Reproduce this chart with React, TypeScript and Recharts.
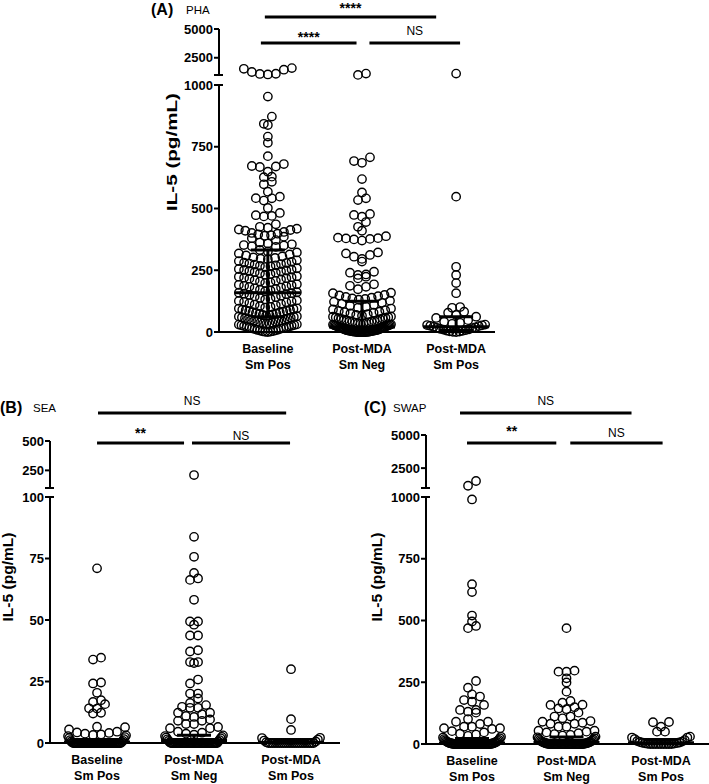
import { ScatterChart, Scatter, XAxis, YAxis, ReferenceLine } from "recharts";

// IL-5 responses (pg/mL) by group.
const FONT = "'Liberation Sans', Arial, Helvetica, sans-serif";

const categories = [["Baseline", "Sm Pos"], ["Post-MDA", "Sm Neg"], ["Post-MDA", "Sm Pos"]];

const phaBaseline = [
  1600, 1540, 1460, 1260, 1110, 1090, 1050,
  953, 872, 843, 838, 791, 766, 712, 680, 672, 670, 668, 649, 629, 627, 608, 598,
  568, 548, 542, 541, 532, 502, 482, 473, 470, 468, 436, 426, 422,
  418, 415, 413, 410, 405, 401, 398, 395, 392, 390,
  386, 380, 372, 362, 358, 355, 352, 350, 347, 345,
  332, 326, 322, 318, 314, 310, 306, 302, 300, 297, 295,
  290, 287, 284, 281, 279, 277, 275, 273, 270, 268, 266, 263,
  258, 255, 253, 251, 249, 247, 245, 243, 240, 238, 235, 232,
  226, 224, 222, 220, 218, 216, 213, 210, 207, 204, 201, 198,
  193, 191, 189, 187, 185, 183, 180, 177, 174, 171, 168, 165,
  161, 159, 157, 155, 153, 150, 147, 144, 141, 138, 135, 132,
  128, 126, 124, 122, 120, 117, 114, 111, 108, 105, 102, 99,
  96, 95, 93, 90, 89, 88, 86, 84, 82, 80, 79, 77, 74, 73, 71, 69, 68, 66,
  64, 63, 61, 59, 58, 56, 54, 52, 50, 49, 47, 46, 44, 43, 41, 38, 37, 35, 34, 33,
  31, 30, 28, 27, 25, 24, 22, 21, 20, 18, 16, 15, 14, 12, 10, 9, 7, 6, 4, 3, 2, 1, 0,
];
const phaNeg = [
  1120, 1010,
  707, 692, 685, 619, 565, 541, 534, 478, 474, 467, 445, 426, 410,
  388, 382, 380, 379, 377, 375, 370, 322, 318, 312, 305, 296, 285,
  244, 240, 233, 231, 224, 217, 193, 187, 183, 173, 159, 157,
  150, 148, 145, 142, 139, 136, 134, 131,
  127, 122, 118, 114, 110, 106, 102, 98,
  95, 91, 88, 85, 82, 80, 78, 75, 72, 69, 66,
  63, 62, 60, 59, 58, 56, 55, 53, 52, 50, 48, 47, 45, 44, 42, 41, 39, 38, 36, 35, 34, 33,
  31, 30, 29, 28, 27, 26, 25, 24, 23, 22, 21, 20, 19, 18, 17, 16, 15, 14, 13, 12, 11, 10, 9,
  8, 8, 7, 7, 6, 6, 5, 5, 4, 4, 3, 3, 2, 2, 2, 1, 1, 1, 0, 0, 0, 0, 0, 0, 0, 0,
];
const phaPos = [
  1120, 548, 264, 231, 198, 157, 101, 98, 82, 78, 69, 62, 57, 48, 42, 37, 33,
  30, 28, 27, 25, 24, 21, 19, 17, 16, 13, 11, 10, 8, 6, 5, 3, 2, 1, 0,
];

const seaBaseline = [
  71, 34.7, 33.9, 24.6, 24.2, 20.4, 17.4, 16.7, 15.8, 14.1, 14, 12.3, 12, 6.6, 6.4, 5.5,
  4.6, 4.3, 4.1, 3.8, 3.5, 3.3, 3.1, 2.8, 2.4, 2, 1.6, 1.2, 0.9, 0.6, 0.4, 0.2,
  0, 0, 0, 0, 0, 0, 0, 0, 0, 0, 0, 0, 0, 0, 0, 0, 0, 0, 0, 0,
  0, 0, 0, 0, 0, 0, 0, 0, 0, 0, 0, 0, 0, 0, 0, 0, 0, 0, 0, 0,
  0, 0, 0, 0, 0,
];
const seaNeg = [
  210, 83.8, 75.7, 69.1, 66.9, 66.3, 58.2, 49.4, 49.4, 48.1, 43.7, 43.7, 37.7, 37.2,
  32.9, 32.9, 32.5, 25.8, 24.2, 20.1, 20.1, 18.1, 16.3, 15.4, 14.7, 14.3, 14.3, 12.3, 12.3,
  11.7, 11, 10.6, 9.6, 9, 9, 7.7, 7.7, 6.5, 6, 6,
  4.6, 4.2, 3.8, 3.4, 3.1, 2.8, 2.5, 2.2, 1.9, 1.5, 1.2, 0.9, 0.6, 0.3,
  0, 0, 0, 0, 0, 0, 0, 0, 0, 0, 0, 0, 0, 0, 0, 0, 0, 0, 0, 0,
  0, 0, 0, 0, 0, 0, 0, 0, 0, 0, 0, 0, 0, 0, 0, 0, 0, 0, 0, 0,
];
const seaPos = [
  30, 9.7, 5.3, 2.1, 2, 1.4, 1, 0.6, 0.3,
  0, 0, 0, 0, 0, 0, 0, 0, 0, 0, 0, 0, 0, 0, 0, 0, 0, 0, 0, 0, 0, 0,
];

const swapBaseline = [
  1530, 1170, 990, 647, 615, 520, 496, 478, 469, 255, 228, 201, 192, 178, 171, 158,
  138, 138, 131, 127, 101, 90, 90, 81, 70, 70, 64, 64, 61, 52, 47, 42, 38, 33, 29, 26,
  23, 20, 17, 15, 13, 11, 9, 8, 7, 6, 5, 4, 3, 3, 2, 2, 1, 1,
  0, 0, 0, 0, 0, 0, 0, 0, 0, 0, 0, 0, 0, 0, 0, 0, 0, 0, 0, 0,
  0, 0, 0, 0, 0, 0, 0, 0, 0, 0, 0, 0, 0, 0, 0,
];
const swapNeg = [
  469, 297, 293, 293, 266, 249, 212, 174, 167, 159, 158, 149, 144, 141, 127, 111, 111,
  104, 93, 90, 86, 82, 82, 70, 70, 54, 54, 50, 47, 44, 40, 37, 34, 30, 27, 24, 21, 18,
  16, 14, 12, 10, 9, 8, 7, 6, 5, 4, 3, 3, 2, 2, 1, 1,
  0, 0, 0, 0, 0, 0, 0, 0, 0, 0, 0, 0, 0, 0, 0, 0, 0, 0, 0, 0,
  0, 0, 0, 0, 0, 0, 0, 0, 0, 0,
];
const swapPos = [89, 88, 70, 50, 50, 30, 26, 26, 20, 16, 12, 10, 8, 6, 5, 4, 3, 2, 1, 0, 0, 0, 0, 0, 0, 0, 0, 0];

// median with interquartile range per group
const phaStats = [{ median: 159, q1: 62, q3: 332 }, { median: 20, q1: 5, q3: 125 }, { median: 21, q1: 6, q3: 62 }];
const seaStats = [{ median: 0.4, q1: 0, q3: 1.2 }, { median: 1, q1: 0, q3: 3.2 }, { median: 0.2, q1: 0, q3: 0.6 }];
const swapStats = [{ median: 4, q1: 0, q3: 22 }, { median: 6, q1: 0, q3: 28 }, { median: 5, q1: 0, q3: 18 }];

const phaLowTicks = [0, 250, 500, 750, 1000];
const phaUpTicks = [1000, 2500, 5000];
const seaLowTicks = [0, 25, 50, 75, 100];
const seaUpTicks = [100, 250, 500];
const swapLowTicks = [0, 250, 500, 750, 1000];
const swapUpTicks = [1000, 2500, 5000];

const Y_W = 60;
const X_H = 45;
const BIN_PX = 8;
const DOT_GAP = 8;
const MED_HALF = 33;
const CAP_HALF = 17;

// GraphPad-like column scatter: bin by pixel row, spread each row around the category
function swarm(values: number[], cat: number, base: number, pxY: number, pxX: number, maxOff: number) {
  const bins = new Map<number, number[]>();
  values.forEach((v) => {
    const b = Math.floor(((v - base) * pxY) / BIN_PX);
    if (!bins.has(b)) bins.set(b, []);
    bins.get(b)!.push(v);
  });
  const out: { x: number; y: number }[] = [];
  bins.forEach((list) => {
    list.sort((a, b) => a - b);
    const n = list.length;
    const step = n > 1 ? Math.min(DOT_GAP, (2 * maxOff) / (n - 1)) : 0;
    const slots = list.map((_, i) => (i - (n - 1) / 2) * step);
    slots.sort((a, b) => Math.abs(a) - Math.abs(b) || a - b);
    list.forEach((v, i) => out.push({ x: cat + slots[i] / pxX, y: v }));
  });
  return out;
}

function Dot(p: any) {
  if (p.cx == null || p.cy == null) return null;
  return <circle cx={p.cx} cy={p.cy} r={4.2} fill="none" stroke="#000" strokeWidth={1.4} />;
}

function YTick({ x, y, payload, brk, labelBrk }: any) {
  const isBrk = payload.value === brk;
  return (
    <g>
      <line x1={x - 5} x2={isBrk ? x + 4 : x} y1={y} y2={y} stroke="#000" strokeWidth={2} />
      {(!isBrk || labelBrk) && (
        <text x={x - 6} y={y} dy={4.5} textAnchor="end" fontSize={13} fontWeight="bold" fontFamily={FONT} fill="#000">
          {payload.value}
        </text>
      )}
    </g>
  );
}

function XTick({ x, y, payload }: any) {
  const lines = categories[payload.value - 1] || ["", ""];
  return (
    <text textAnchor="middle" fontSize={12.5} fontWeight="bold" fontFamily={FONT} fill="#000">
      <tspan x={x} y={y + 21}>{lines[0]}</tspan>
      <tspan x={x} y={y + 37}>{lines[1]}</tspan>
    </text>
  );
}

type Sig = { from: number; to: number; y: number; text: string; offset: number };

const panels = [
  {
    title: "(A)", sub: "PHA", titleX: 151, subX: 186, titleY: 15, labelX: 177, labelY: 152, labelLen: 118,
    panelTop: 0, axisX: 219, plotRight: 495, upperTop: 29, upperBottom: 75, lowerTop: 85, lowerBottom: 332,
    xDomain: [0.481, 3.413], brk: 1000, top: 5000, maxOff: 29,
    lowerTicks: phaLowTicks, upperTicks: phaUpTicks,
    groups: [phaBaseline, phaNeg, phaPos], stats: phaStats,
    sigs: [
      { from: 0.968, to: 2.788, y: 6043, text: "****", offset: 4 },
      { from: 0.926, to: 1.942, y: 3783, text: "****", offset: 1 },
      { from: 2.079, to: 3.042, y: 3783, text: "NS", offset: 8 },
    ] as Sig[],
  },
  {
    title: "(B)", sub: "SEA", titleX: 0, subX: 33, titleY: 413, labelX: 13, labelY: 577, labelLen: 89,
    panelTop: 385, axisX: 50, plotRight: 340, upperTop: 441, upperBottom: 488, lowerTop: 497, lowerBottom: 743,
    xDomain: [0.515, 3.505], brk: 100, top: 500, maxOff: 29,
    lowerTicks: seaLowTicks, upperTicks: seaUpTicks,
    groups: [seaBaseline, seaNeg, seaPos], stats: seaStats,
    sigs: [
      { from: 1.01, to: 2.95, y: 738, text: "NS", offset: 8 },
      { from: 1.0, to: 1.897, y: 483, text: "**", offset: 5 },
      { from: 1.979, to: 2.99, y: 483, text: "NS", offset: 3 },
    ] as Sig[],
  },
  {
    title: "(C)", sub: "SWAP", titleX: 364, subX: 393, titleY: 413, labelX: 382, labelY: 577, labelLen: 89,
    panelTop: 385, axisX: 426, plotRight: 709, upperTop: 435, upperBottom: 488, lowerTop: 497, lowerBottom: 744,
    xDomain: [0.513, 3.508], brk: 1000, top: 5000, maxOff: 29,
    lowerTicks: swapLowTicks, upperTicks: swapUpTicks,
    groups: [swapBaseline, swapNeg, swapPos], stats: swapStats,
    sigs: [
      { from: 0.873, to: 2.688, y: 6660, text: "NS", offset: 8 },
      { from: 0.947, to: 1.892, y: 4396, text: "**", offset: 7 },
      { from: 2.04, to: 3.017, y: 4396, text: "NS", offset: 6 },
    ] as Sig[],
  },
];

const axisLine = { stroke: "#000", strokeWidth: 2 };

function Panel({ cfg }: { cfg: any }) {
  const plotW = cfg.plotRight - cfg.axisX;
  const pxX = plotW / (cfg.xDomain[1] - cfg.xDomain[0]);
  const pxLow = (cfg.lowerBottom - cfg.lowerTop) / cfg.brk;
  const pxUp = (cfg.upperBottom - cfg.upperTop) / (cfg.top - cfg.brk);
  const upMargin = cfg.upperTop - cfg.panelTop;
  const lowMargin = 8;
  const m = MED_HALF / pxX;
  const k = CAP_HALF / pxX;

  return (
    <>
      <div style={{ position: "absolute", left: cfg.axisX - Y_W, top: cfg.panelTop }}>
        <ScatterChart
          width={Y_W + plotW + 6}
          height={upMargin + cfg.upperBottom - cfg.upperTop + 6}
          margin={{ top: upMargin, right: 6, bottom: 6, left: 0 }}
        >
          <XAxis type="number" dataKey="x" domain={cfg.xDomain} hide />
          <YAxis
            type="number" dataKey="y" domain={[cfg.brk, cfg.top]} ticks={cfg.upperTicks} width={Y_W}
            interval={0} tickSize={0} tickMargin={0} tickLine={false} axisLine={axisLine}
            tick={(p: any) => <YTick {...p} brk={cfg.brk} labelBrk={false} />}
          />
          {cfg.groups.map((vals: number[], i: number) => (
            <Scatter
              key={i}
              data={swarm(vals.filter((v) => v > cfg.brk), i + 1, cfg.brk, pxUp, pxX, cfg.maxOff)}
              shape={Dot}
              isAnimationActive={false}
            />
          ))}
          {cfg.sigs.map((s: Sig, i: number) => (
            <ReferenceLine
              key={i}
              segment={[{ x: s.from, y: s.y }, { x: s.to, y: s.y }]}
              stroke="#000"
              strokeWidth={3}
              ifOverflow="visible"
              label={{
                value: s.text, position: "top", offset: s.offset, fill: "#000", fontFamily: FONT,
                fontSize: s.text === "NS" ? 12 : 14, fontWeight: s.text === "NS" ? "normal" : "bold",
              }}
            />
          ))}
        </ScatterChart>
      </div>
      <div style={{ position: "absolute", left: cfg.axisX - Y_W, top: cfg.lowerTop - lowMargin }}>
        <ScatterChart
          width={Y_W + plotW + 6}
          height={lowMargin + cfg.lowerBottom - cfg.lowerTop + X_H}
          margin={{ top: lowMargin, right: 6, bottom: 0, left: 0 }}
        >
          <XAxis
            type="number" dataKey="x" domain={cfg.xDomain} ticks={[1, 2, 3]} interval={0}
            height={X_H} tickSize={0} tickMargin={0} tickLine={false} axisLine={axisLine}
            tick={(p: any) => <XTick {...p} />}
          />
          <YAxis
            type="number" dataKey="y" domain={[0, cfg.brk]} ticks={cfg.lowerTicks} width={Y_W}
            interval={0} tickSize={0} tickMargin={0} tickLine={false} axisLine={axisLine}
            tick={(p: any) => <YTick {...p} brk={cfg.brk} labelBrk />}
          />
          {cfg.groups.map((vals: number[], i: number) => (
            <Scatter
              key={i}
              data={swarm(vals.filter((v) => v <= cfg.brk), i + 1, 0, pxLow, pxX, cfg.maxOff)}
              shape={Dot}
              isAnimationActive={false}
            />
          ))}
          {cfg.stats.map((s: any, i: number) => {
            const c = i + 1;
            return [
              <ReferenceLine key={`m${i}`} segment={[{ x: c - m, y: s.median }, { x: c + m, y: s.median }]} stroke="#000" strokeWidth={3} ifOverflow="visible" />,
              <ReferenceLine key={`v${i}`} segment={[{ x: c, y: s.q1 }, { x: c, y: s.q3 }]} stroke="#000" strokeWidth={3} ifOverflow="visible" />,
              <ReferenceLine key={`a${i}`} segment={[{ x: c - k, y: s.q3 }, { x: c + k, y: s.q3 }]} stroke="#000" strokeWidth={3} ifOverflow="visible" />,
              <ReferenceLine key={`b${i}`} segment={[{ x: c - k, y: s.q1 }, { x: c + k, y: s.q1 }]} stroke="#000" strokeWidth={3} ifOverflow="visible" />,
            ];
          })}
        </ScatterChart>
      </div>
    </>
  );
}

export default function App() {
  return (
    <div style={{ position: "absolute", left: 0, top: 0, width: 709, height: 784, overflow: "hidden", background: "#fff" }}>
      {panels.map((p, i) => (
        <Panel key={i} cfg={p} />
      ))}
      <svg width={709} height={784} style={{ position: "absolute", left: 0, top: 0, pointerEvents: "none" }} fontFamily={FONT}>
        {panels.map((p, i) => (
          <g key={i} fill="#000">
            <text x={p.titleX} y={p.titleY} fontSize={16} fontWeight="bold">{p.title}</text>
            <text x={p.subX} y={p.titleY - 1} fontSize={11.5}>{p.sub}</text>
            <text
              transform={`translate(${p.labelX},${p.labelY}) rotate(-90)`}
              textAnchor="middle" fontSize={15} fontWeight="bold"
              textLength={p.labelLen} lengthAdjust="spacingAndGlyphs"
            >
              IL-5 (pg/mL)
            </text>
          </g>
        ))}
      </svg>
    </div>
  );
}
